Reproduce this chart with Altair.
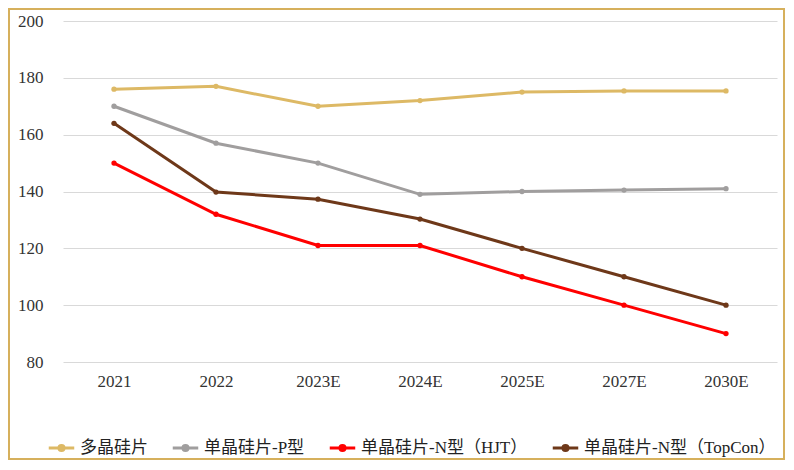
import altair as alt
import pandas as pd

years = ["2021", "2022", "2023E", "2024E", "2025E", "2027E", "2030E"]
series_names = ["多晶硅片", "单晶硅片-P型", "单晶硅片-N型（HJT）", "单晶硅片-N型（TopCon）"]
poly = [176, 177, 170, 172, 175, 175.4, 175.4]
mono_p = [170, 157, 150, 139, 140, 140.5, 141]
hjt = [150, 132, 121, 121, 110, 100, 90]
topcon = [164, 139.8, 137.3, 130.3, 120, 110, 100]
colors = ["#DDB965", "#A09E9E", "#FF0000", "#6E3819"]

rows = []
for name, vals in zip(series_names, [poly, mono_p, hjt, topcon]):
    for y, v in zip(years, vals):
        rows.append({"year": y, "series": name, "value": v})
df = pd.DataFrame(rows)

FONT = "Liberation Serif, Noto Sans CJK SC"
W, H = 714, 341
PL, PT, PR, PB = 55, 13, 8, 98

color = alt.Color(
    "series:N",
    sort=series_names,
    scale=alt.Scale(domain=series_names, range=colors),
    legend=alt.Legend(
        orient="none",
        legendX=-16,
        legendY=H + 71,
        direction="horizontal",
        title=None,
        symbolType="M-1,0H1M0.2,0A0.2,0.2 0 1 1 -0.2,0A0.2,0.2 0 1 1 0.2,0",
        symbolSize=650,
        symbolStrokeWidth=3,
        labelFont=FONT,
        labelFontSize=17,
        labelColor="#222222",
        columnPadding=18,
        labelOffset=4,
        labelLimit=300,
    ),
)

x = alt.X(
    "year:N",
    sort=years,
    scale=alt.Scale(domain=years, paddingInner=0, paddingOuter=0),
    axis=alt.Axis(
        title=None, labelAngle=0, domain=False, ticks=False, grid=False,
        labelFont=FONT, labelFontSize=17, labelColor="#333333", labelPadding=11,
    ),
)
yenc = alt.Y(
    "value:Q",
    scale=alt.Scale(domain=[80, 200], nice=False, zero=False),
    axis=alt.Axis(
        title=None, values=[80, 100, 120, 140, 160, 180, 200], domain=False, ticks=False,
        grid=True, gridColor="#D9D9D9", gridWidth=1,
        labelFont=FONT, labelFontSize=17, labelColor="#333333", labelPadding=20,
    ),
)

lines = alt.Chart(df).mark_line(strokeWidth=3).encode(x=x, y=yenc, color=color)
points = alt.Chart(df).mark_point(filled=True, size=28, opacity=1).encode(x=x, y=yenc, color=color)

border = alt.Chart(df).mark_rect(fill=None, stroke="#D6B05C", strokeWidth=1.5).encode(
    x=alt.value(-PL + 1), x2=alt.value(W + PR - 1), y=alt.value(-PT + 1), y2=alt.value(H + PB - 1)
)

chart = alt.layer(border, lines, points).properties(
    width=W, height=H,
    background="white",
    autosize=alt.AutoSizeParams(type="none"),
    padding={"left": PL, "top": PT, "right": PR, "bottom": PB},
).configure_view(stroke=None)

chart.save("out.html", embed_options={"renderer": "svg", "actions": False})
